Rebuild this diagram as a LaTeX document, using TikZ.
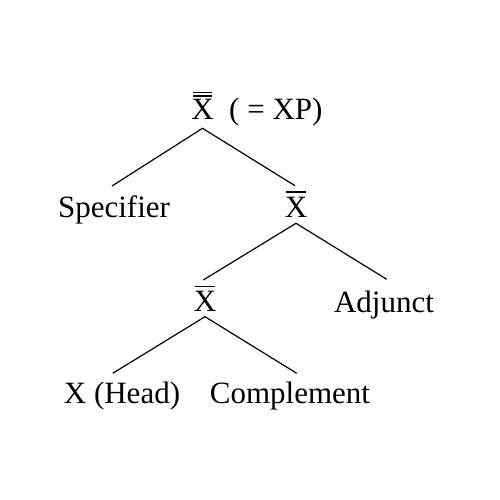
\documentclass[tikz,border=0pt]{standalone}
\usepackage{fontspec}
\setmainfont{Liberation Serif}
\begin{document}
\begin{tikzpicture}[x=1pt,y=-1pt,
  lbl/.style={inner sep=0pt,anchor=base,font=\fontsize{31}{37}\selectfont},
  edge/.style={line width=1.2pt},
  barline/.style={line width=1.4pt}]
\useasboundingbox (0,0) rectangle (500,500);
% nodes
\node[lbl] (top) at (202.5,120) {X};
\node[lbl,anchor=base west] (xp) at (229,120) {( = XP)};
\node[lbl] (spec) at (114,217) {Specifier};
\node[lbl] (xb1) at (296,217) {X};
\node[lbl] (xb2) at (205,311.7) {X};
\node[lbl] (adj) at (384,312) {Adjunct};
\node[lbl] (head) at (122,403) {X (Head)};
\node[lbl] (comp) at (290,403) {Complement};
% bars
\draw[barline] ([xshift=1.5pt,yshift=7pt]top.north west) -- ([xshift=-1.5pt,yshift=7pt]top.north east);
\draw[barline] ([xshift=1.5pt,yshift=3.6pt]top.north west) -- ([xshift=-1.5pt,yshift=3.6pt]top.north east);
\draw[barline] ([xshift=1.5pt,yshift=4.5pt]xb1.north west) -- ([xshift=-1.5pt,yshift=4.5pt]xb1.north east);
\draw[barline] ([xshift=1.5pt,yshift=4.5pt]xb2.north west) -- ([xshift=-1.5pt,yshift=4.5pt]xb2.north east);
% edges
\draw[edge] ([xshift=-2pt,yshift=31pt]spec.base) -- ([yshift=-8.3pt]top.base) -- ([xshift=-1pt,yshift=31.3pt]xb1.base);
\draw[edge] ([xshift=-1.7pt,yshift=31.7pt]xb2.base) -- ([yshift=-6.3pt]xb1.base) -- ([xshift=2.7pt,yshift=32.7pt]adj.base);
\draw[edge] ([xshift=-9.3pt,yshift=29.7pt]head.base) -- ([yshift=-5pt]xb2.base) -- ([xshift=6.7pt,yshift=29.7pt]comp.base);
\end{tikzpicture}
\end{document}
